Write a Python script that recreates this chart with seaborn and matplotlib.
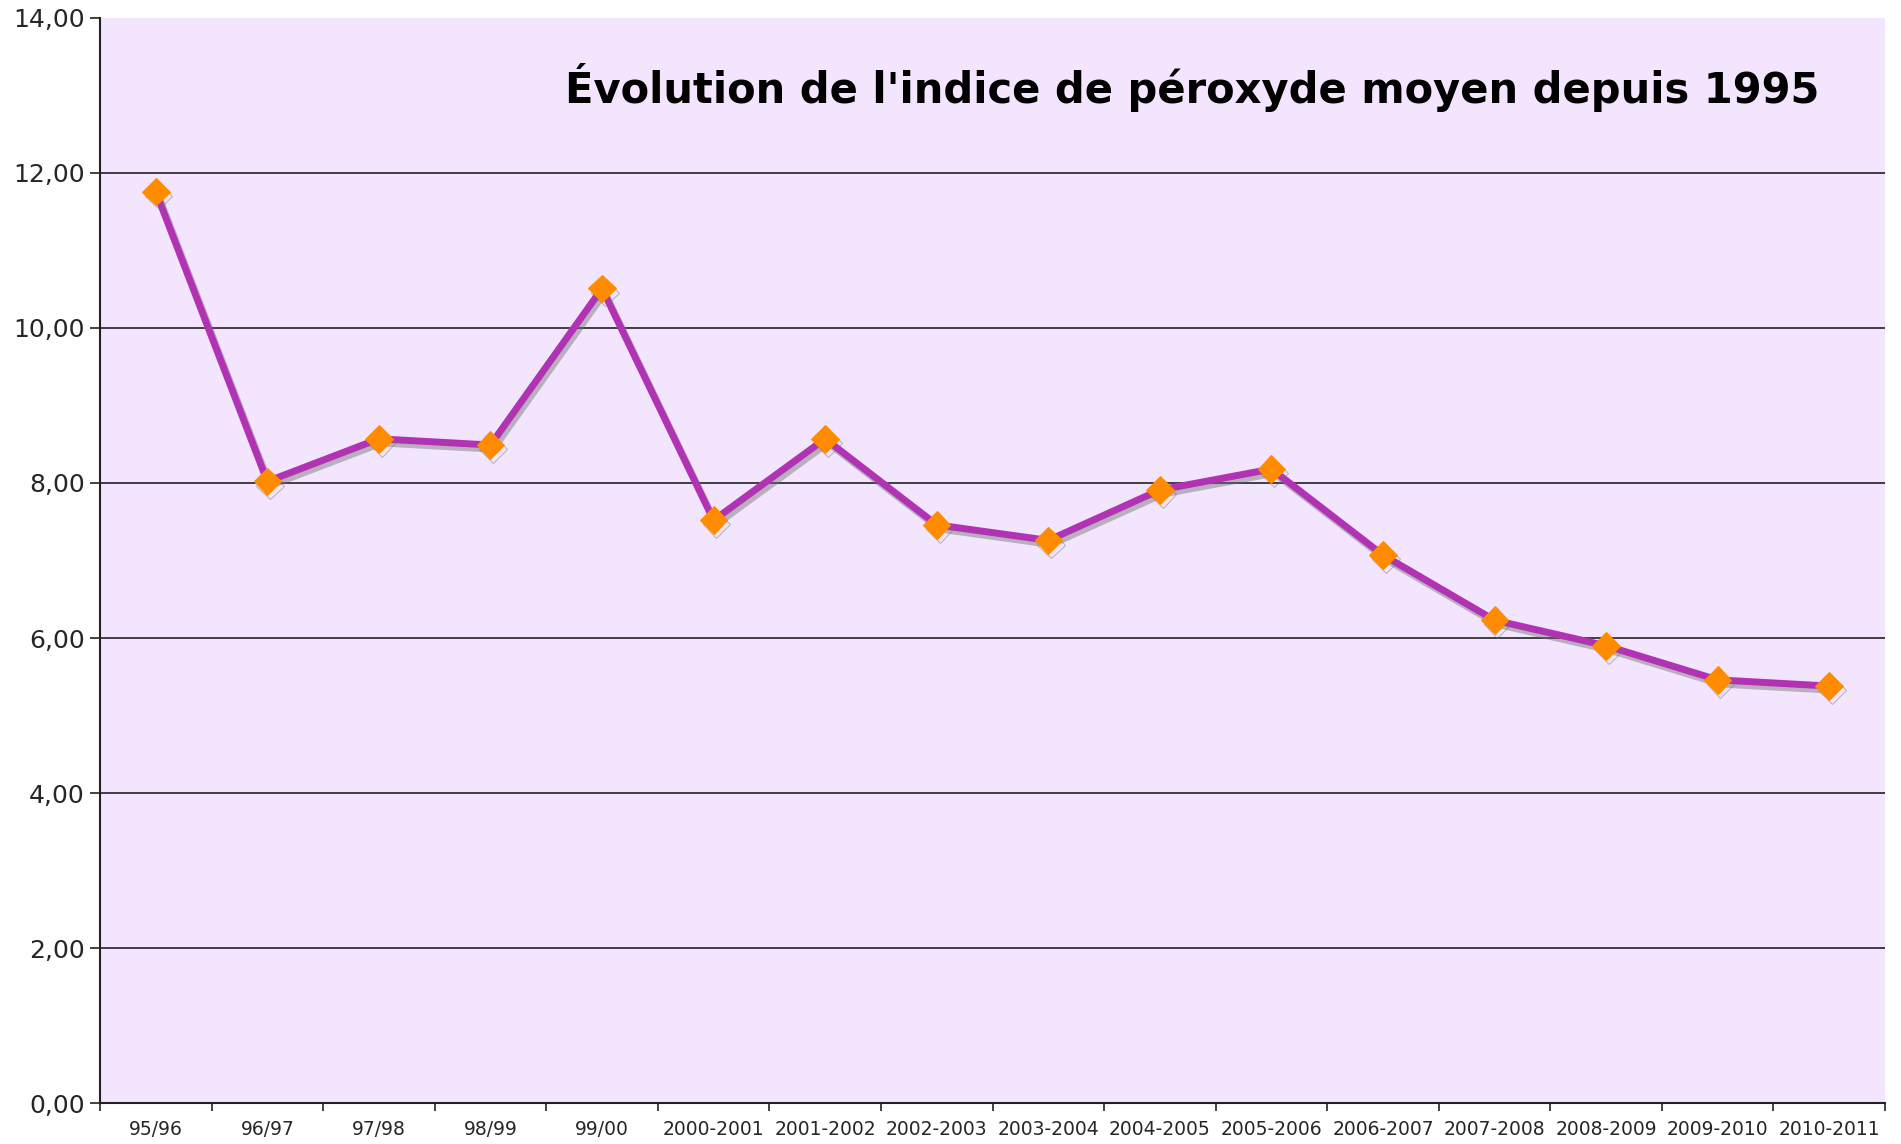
import matplotlib
matplotlib.use('Agg')
import matplotlib.pyplot as plt
import matplotlib.patheffects as pe
from matplotlib.ticker import FuncFormatter, FixedLocator
import pandas as pd
import seaborn as sns

# données
saisons = ['95/96', '96/97', '97/98', '98/99', '99/00', '2000-2001', '2001-2002',
           '2002-2003', '2003-2004', '2004-2005', '2005-2006', '2006-2007',
           '2007-2008', '2008-2009', '2009-2010', '2010-2011']
indice = [11.76, 8.02, 8.57, 8.49, 10.51, 7.52, 8.57, 7.46, 7.26, 7.91, 8.18,
          7.07, 6.23, 5.90, 5.46, 5.38]
graduations = [0, 2, 4, 6, 8, 10, 12, 14]
titre = "Évolution de l'indice de péroxyde moyen depuis 1995"

df = pd.DataFrame({'saison': saisons, 'indice': indice})
df['pos'] = range(len(df))

sns.set_style('white')
plt.rcParams['font.family'] = ['DejaVu Sans']

fig = plt.figure(figsize=(19.01, 11.44), dpi=100)
ax = fig.add_axes([0.0526, 0.0358, 0.939, 0.9485])
ax.set_facecolor('#f3e5fd')

# lignes horizontales (pas de ligne en haut à 14)
for g in graduations[1:-1]:
    ax.axhline(g, color='#222222', linewidth=1.2, zorder=1)

sns.lineplot(data=df, x='pos', y='indice', ax=ax, color='#b133b4', linewidth=5,
             marker='D', markersize=14, markerfacecolor='#ff8c00',
             markeredgecolor='#ff8c00', zorder=3,
             path_effects=[pe.SimpleLineShadow(offset=(2, -3), shadow_color='#707070', alpha=0.45),
                           pe.Normal()])

ax.set_xlim(-0.5, len(saisons) - 0.5)
ax.set_ylim(0, 14)
ax.set_yticks(graduations)
ax.yaxis.set_major_formatter(FuncFormatter(lambda v, p: f'{v:.2f}'.replace('.', ',')))
ax.set_xticks(df['pos'])
ax.set_xticklabels(saisons, fontsize=13.5)
ax.xaxis.set_minor_locator(FixedLocator([i - 0.5 for i in range(len(saisons) + 1)]))
ax.tick_params(axis='x', which='major', length=0, pad=12)
ax.tick_params(axis='x', which='minor', length=6, width=1.2, color='#222222', direction='out', bottom=True)
ax.tick_params(axis='y', labelsize=18, length=7, width=1.2, color='#222222', left=True, pad=4)
ax.grid(False)
for c in ['top', 'right']:
    ax.spines[c].set_visible(False)
for c in ['left', 'bottom']:
    ax.spines[c].set_color('#222222')
    ax.spines[c].set_linewidth(1.5)
ax.set_xlabel('')
ax.set_ylabel('')

ax.text(0.963, 0.936, titre, transform=ax.transAxes, ha='right', va='center',
        fontsize=30, fontweight='bold', color='black')

fig.savefig('out.png', dpi=100)
